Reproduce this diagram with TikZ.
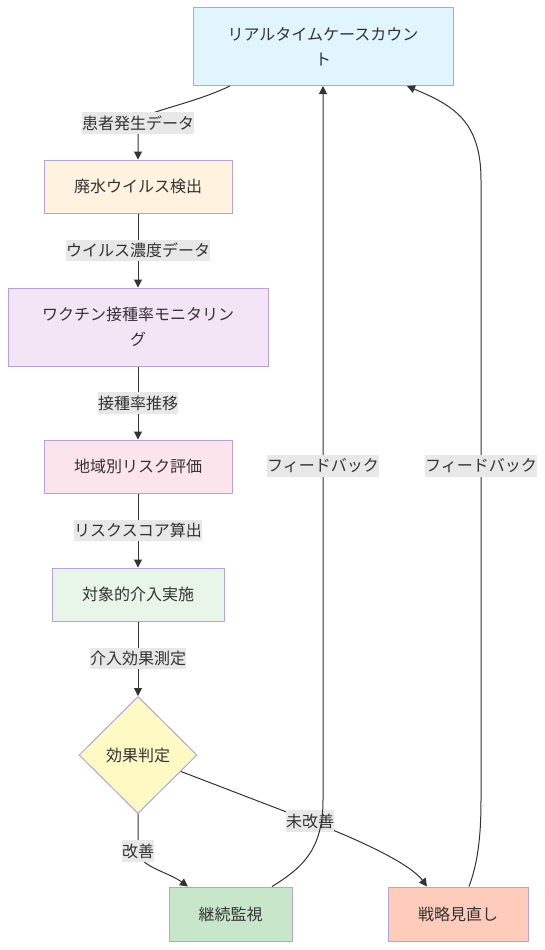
\documentclass[tikz,border=0pt]{standalone}
\usepackage{fontspec}
\setmainfont{Noto Sans CJK JP}
\usepackage{tikz}
\usetikzlibrary{arrows.meta,shapes.geometric}

\definecolor{nodeline}{HTML}{B3A3E0}
\definecolor{textgrey}{HTML}{333333}
\definecolor{lblgrey}{HTML}{E8E8E8}
\definecolor{rtfill}{HTML}{E1F5FE}
\definecolor{wstfill}{HTML}{FFF3E0}
\definecolor{vacfill}{HTML}{F3E5F5}
\definecolor{riskfill}{HTML}{FCE4EC}
\definecolor{intfill}{HTML}{E8F5E9}
\definecolor{diafill}{HTML}{FFF9C4}
\definecolor{contfill}{HTML}{C8E6C9}
\definecolor{revfill}{HTML}{FFCCBC}

\begin{document}
\begin{tikzpicture}[x=0.75pt,y=0.75pt]
  \useasboundingbox (0,0) rectangle (544,-950);

  \begin{scope}[shape=rectangle]
    \tikzstyle{every node}=[draw=nodeline, line width=0.75pt, text=textgrey, inner sep=0pt, align=center, font=\fontsize{12}{18.75}\selectfont]
    \node[fill=rtfill, minimum width=195pt, minimum height=58.5pt] (rt) at (323,-46.5) {リアルタイムケースカウン\\ト};
    \node[fill=wstfill, minimum width=141pt, minimum height=39.75pt] (wst) at (138,-186.5) {廃水ウイルス検出};
    \node[fill=vacfill, minimum width=195pt, minimum height=58.5pt] (vac) at (138,-327) {ワクチン接種率モニタリン\\グ};
    \node[fill=riskfill, minimum width=141pt, minimum height=39.75pt] (risk) at (138,-466.5) {地域別リスク評価};
    \node[fill=intfill, minimum width=129pt, minimum height=39.75pt] (int) at (138,-594.5) {対象的介入実施};
    \node[shape=diamond, fill=diafill, minimum width=88.5pt, minimum height=87.75pt] (dia) at (138,-755) {効果判定};
    \node[fill=contfill, minimum width=92.25pt, minimum height=40.5pt] (cont) at (230.5,-914) {継続監視};
    \node[fill=revfill, minimum width=105pt, minimum height=40.5pt] (rev) at (458,-914) {戦略見直し};
  \end{scope}

  \begin{scope}[draw=textgrey, line width=0.75pt, -{Triangle[length=6pt,width=6pt]}]
    \tikzstyle{lbl}=[fill=lblgrey, text=textgrey, inner xsep=0pt, inner ysep=2.5pt, font=\fontsize{12}{14}\selectfont]
    \draw ([xshift=-69.75pt]rt.south) .. controls (188,-106) and (139,-112) .. (138,-123) node[lbl]{患者発生データ} -- (wst);
    \draw (wst) -- (vac) node[midway,lbl]{ウイルス濃度データ};
    \draw (vac) -- (risk) node[midway,lbl]{接種率推移};
    \draw (risk) -- (int) node[midway,lbl]{リスクスコア算出};
    \draw (int) -- (dia) node[midway,lbl]{介入効果測定};
    \draw (dia.south) .. controls (138,-835) .. (138,-851) node[lbl]{改善} .. controls (138,-866) and (168,-872) .. ([xshift=-31.9pt]cont.north);
    \draw (dia) -- (310,-821) node[lbl]{未改善} .. controls (370,-844) and (412,-866) .. ([xshift=-23.25pt]rev.north);
    \draw ([xshift=31.1pt]cont.north) .. controls (302,-868) and (323,-850) .. (323,-800) -- (323,-466) node[lbl]{フィードバック} -- (rt.south);
    \draw ([xshift=8.25pt]rev.north) .. controls (479,-860) and (481,-830) .. (481,-800) -- (481,-466) node[lbl]{フィードバック} -- (481,-180) .. controls (481,-120) and (452,-105) .. ([xshift=63pt]rt.south);
  \end{scope}

\end{tikzpicture}
\end{document}
